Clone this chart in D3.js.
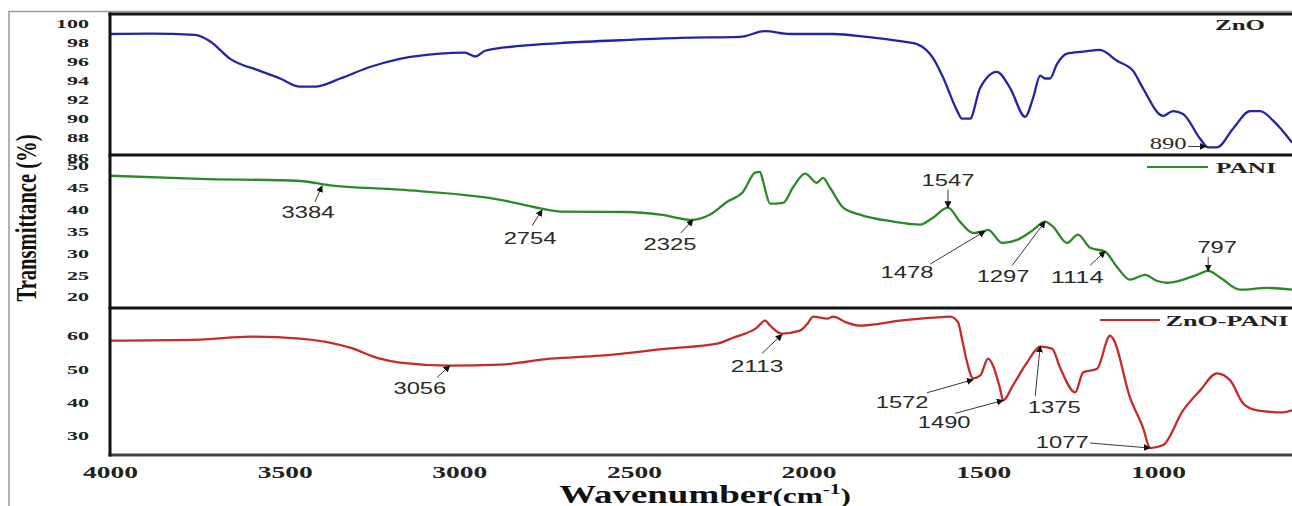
<!DOCTYPE html>
<html>
<head>
<meta charset="utf-8">
<script src="https://cdn.jsdelivr.net/npm/d3@7/dist/d3.min.js"></script>
<style>
  html, body { margin: 0; padding: 0; background: #fff; }
  svg { display: block; }
</style>
</head>
<body>
<svg id="chart" width="1292" height="506"></svg>
<script>
// ---------------------------------------------------------------------------
// Data (wavenumber in cm-1, transmittance in %)
// ---------------------------------------------------------------------------
const znoWn = [4000, 3885, 3757, 3714, 3656, 3571, 3513, 3456, 3413, 3341, 3256, 3170, 3055, 2984,
  2955, 2926, 2826, 2712, 2540, 2368, 2196, 2125, 2053, 1930, 1833, 1738, 1690, 1644, 1615, 1575,
  1561, 1538, 1509, 1461, 1423, 1380, 1357, 1337, 1323, 1309, 1289, 1260, 1214, 1166, 1117, 1071,
  1043, 985, 957, 928, 879, 856, 831, 785, 736, 707, 670, 616];
const znoT = [98.85, 98.9, 98.75, 98.1, 96.25, 95.0, 94.2, 93.35, 93.35, 94.2, 95.4, 96.25, 96.8, 96.9,
  96.5, 97.1, 97.6, 97.9, 98.2, 98.45, 98.55, 99.15, 98.85, 98.85, 98.55, 98.1, 97.8, 96.35, 94.3, 90.85,
  90.0, 90.0, 93.2, 94.9, 93.2, 90.2, 92.2, 94.5, 94.2, 94.2, 95.7, 96.8, 97.0, 97.2, 96.05, 95.0,
  93.2, 90.3, 90.8, 90.5, 87.9, 87.0, 87.0, 88.95, 90.8, 90.8, 89.8, 87.5];

const paniWn = [4000, 3742, 3456, 3370, 3170, 2883, 2790, 2712, 2520, 2425, 2331, 2282, 2234, 2188,
  2153, 2139, 2130, 2110, 2073, 2045, 2010, 1976, 1959, 1939, 1901, 1853, 1758, 1681, 1644, 1601,
  1567, 1529, 1495, 1486, 1446, 1403, 1357, 1323, 1300, 1260, 1229, 1194, 1151, 1117, 1080, 1037,
  1002, 974, 928, 888, 856, 822, 765, 687, 616];
const paniT = [47.7, 47.0, 46.5, 45.5, 44.5, 42.2, 40.6, 39.5, 39.4, 38.8, 37.6, 38.8, 41.7, 44.0,
  48.4, 48.6, 46.3, 41.3, 41.5, 45.0, 48.2, 46.1, 47.2, 45.0, 40.4, 38.8, 37.2, 36.5, 38.1, 40.4,
  37.2, 34.6, 35.1, 35.3, 32.3, 33.0, 35.3, 37.2, 36.0, 32.3, 34.2, 31.2, 30.3, 26.8, 23.9, 25.0,
  23.6, 23.2, 23.9, 25.0, 25.9, 24.4, 21.6, 22.0, 21.6];

const zpWn = [4000, 3742, 3599, 3456, 3313, 3227, 3170, 3027, 2883, 2740, 2597, 2405, 2262, 2216,
  2148, 2125, 2110, 2076, 2025, 2004, 1987, 1947, 1930, 1890, 1853, 1738, 1644, 1595, 1572, 1561,
  1546, 1529, 1509, 1486, 1472, 1452, 1443, 1415, 1375, 1337, 1303, 1280, 1237, 1214, 1174, 1137,
  1128, 1080, 1043, 1022, 985, 928, 879, 831, 793, 756, 716, 642, 616];
const zpT = [58.5, 58.8, 59.7, 59.1, 56.4, 53.1, 51.9, 51.0, 51.3, 53.1, 54.0, 56.1, 57.6, 59.4,
  62.4, 64.5, 63.0, 60.6, 61.5, 63.5, 65.7, 65.1, 65.7, 63.9, 63.0, 64.5, 65.4, 65.7, 64.0, 59.1,
  51.9, 47.2, 48.0, 53.1, 51.0, 44.2, 40.6, 45.1, 51.9, 56.7, 56.1, 50.4, 43.0, 49.0, 50.1, 60.0,
  59.1, 41.5, 32.5, 26.3, 27.2, 37.6, 43.6, 48.7, 46.6, 39.7, 37.6, 37.0, 37.6];

const xTicks = [4000, 3500, 3000, 2500, 2000, 1500, 1000];
const znoTicks = [100, 98, 96, 94, 92, 90, 88, 86];
const paniTicks = [50, 45, 40, 35, 30, 25, 20];
const zpTicks = [60, 50, 40, 30];

// Peak annotations: [label, wavenumber of the arrow tip, transmittance at the tip]
const znoPeaks = [['890', 862, 87.1]];
const paniPeaks = [['3384', 3393, 45.4], ['2754', 2763, 39.9], ['2325', 2331, 37.6],
  ['1547', 1601, 40.4], ['1478', 1495, 35.0], ['1297', 1323, 37.2], ['1114', 1151, 30.4],
  ['797', 856, 25.9]];
const zpPeaks = [['3056', 3027, 51.0], ['2113', 2076, 60.4], ['1572', 1529, 46.8],
  ['1490', 1443, 40.6], ['1375', 1337, 56.9], ['1077', 1022, 26.3]];

// Where each label sits relative to its arrow tip (pixels): label centre, arrow start.
const peakLayout = {
  '890': { lx: -38, ly: -3, sx: -18, sy: 0 },
  '3384': { lx: -14, ly: 26, sx: -7, sy: 16 },
  '2754': { lx: -12, ly: 28, sx: -10, sy: 16 },
  '2325': { lx: -23, ly: 24, sx: -12, sy: 13 },
  '1547': { lx: 0, ly: -27, sx: 0, sy: -18 },
  '1478': { lx: -78, ly: 41, sx: -55, sy: 33 },
  '1297': { lx: -42, ly: 55, sx: -33, sy: 44 },
  '1114': { lx: -28, ly: 26, sx: -15, sy: 14 },
  '797': { lx: 9, ly: -24, sx: 0, sy: -14 },
  '3056': { lx: -30, ly: 23, sx: -13, sy: 12 },
  '2113': { lx: -25, ly: 32, sx: -20, sy: 19 },
  '1572': { lx: -71, ly: 23, sx: -46, sy: 13 },
  '1490': { lx: -59, ly: 22, sx: -48, sy: 13 },
  '1375': { lx: 14, ly: 61, sx: -5, sy: 50 },
  '1077': { lx: -88, ly: -6, sx: -60, sy: -5 },
};

// ---------------------------------------------------------------------------
// Layout
// ---------------------------------------------------------------------------
const svg = d3.select('#chart');
const W = 1292;
const plotLeft = 110;
const serif = '"Liberation Serif", "Times New Roman", serif';
const sans = '"Liberation Sans", Arial, sans-serif';

// the frame continues past the right edge of the photo
const x = d3.scaleLinear().domain([4000, 400]).range([plotLeft, plotLeft + 3600 * 0.3493]);

const panels = [
  { name: 'ZnO', wn: znoWn, t: znoT, peaks: znoPeaks, ticks: znoTicks, color: '#2424a4',
    top: 14, bottom: 155, y: d3.scaleLinear().domain([86, 100]).range([157, 23]),
    legend: { line: null, tx: 1240, ty: 25, len: 50 } },
  { name: 'PANI', wn: paniWn, t: paniT, peaks: paniPeaks, ticks: paniTicks, color: '#2a8a2a',
    top: 155, bottom: 308, y: d3.scaleLinear().domain([20, 50]).range([296.7, 165.7]),
    legend: { line: [1147, 1208, 167], tx: 1246, ty: 168, len: 60 } },
  { name: 'ZnO-PANI', wn: zpWn, t: zpT, peaks: zpPeaks, ticks: zpTicks, color: '#c62a2a',
    top: 308, bottom: 455, y: d3.scaleLinear().domain([30, 60]).range([435.7, 335.7]),
    legend: { line: [1100, 1160, 320], tx: 1227, ty: 321, len: 123 } },
];

const defs = svg.append('defs');
defs.append('marker')
  .attr('id', 'arrow')
  .attr('viewBox', '0 0 10 10')
  .attr('refX', 9).attr('refY', 5)
  .attr('markerWidth', 7).attr('markerHeight', 7)
  .attr('markerUnits', 'userSpaceOnUse')
  .attr('orient', 'auto')
  .append('path')
    .attr('d', 'M0,0 L10,5 L0,10 z')
    .attr('fill', '#111');

// outer grey frame of the figure
svg.append('rect')
  .attr('x', 9).attr('y', 11.5)
  .attr('width', W + 20).attr('height', 600)
  .attr('fill', 'none')
  .attr('stroke', '#9a9a9a')
  .attr('stroke-width', 1.5);

panels.forEach((p, i) => {
  const g = svg.append('g').attr('class', 'panel');

  defs.append('clipPath').attr('id', 'clip' + i)
    .append('rect')
      .attr('x', plotLeft).attr('y', p.top)
      .attr('width', W - plotLeft).attr('height', p.bottom - p.top);

  // spectrum
  const line = d3.line()
    .x((d) => x(d[0]))
    .y((d) => p.y(d[1]))
    .curve(d3.curveMonotoneX);

  g.append('path')
    .datum(p.wn.map((w, k) => [w, p.t[k]]))
    .attr('clip-path', `url(#clip${i})`)
    .attr('d', line)
    .attr('fill', 'none')
    .attr('stroke', p.color)
    .attr('stroke-width', 2.3)
    .attr('stroke-linejoin', 'round');

  // y axis labels (no tick marks in the original)
  const yAxis = g.append('g')
    .attr('transform', `translate(${plotLeft},0)`)
    .call(d3.axisLeft(p.y).tickValues(p.ticks).tickSize(0).tickPadding(21));
  yAxis.select('.domain').remove();
  yAxis.selectAll('text')
    .attr('font-family', serif)
    .attr('font-weight', 'bold')
    .attr('font-size', 11.5)
    .attr('fill', '#222')
    .attr('dy', '0.36em')
    .attr('textLength', (d) => String(d).length * 11)
    .attr('lengthAdjust', 'spacingAndGlyphs');

  // peak annotations
  const ann = g.selectAll('.peak').data(p.peaks).enter().append('g').attr('class', 'peak');
  ann.each(function (d) {
    const lay = peakLayout[d[0]];
    const tx = x(d[1]);
    const ty = p.y(d[2]);
    const a = d3.select(this);
    a.append('line')
      .attr('x1', tx + lay.sx).attr('y1', ty + lay.sy)
      .attr('x2', tx).attr('y2', ty)
      .attr('stroke', '#222')
      .attr('stroke-width', 0.9)
      .attr('marker-end', 'url(#arrow)');
    a.append('text')
      .attr('x', tx + lay.lx).attr('y', ty + lay.ly)
      .attr('dy', '0.36em')
      .attr('text-anchor', 'middle')
      .attr('font-family', d[0] === '890' ? serif : sans)
      .attr('font-size', 16)
      .attr('fill', '#2a2a2a')
      .attr('textLength', d[0].length * (d[0] === '890' ? 12.3 : 13.2))
      .attr('lengthAdjust', 'spacingAndGlyphs')
      .text(d[0]);
  });

  // legend
  if (p.legend.line) {
    g.append('line')
      .attr('x1', p.legend.line[0]).attr('x2', p.legend.line[1])
      .attr('y1', p.legend.line[2]).attr('y2', p.legend.line[2])
      .attr('stroke', p.color)
      .attr('stroke-width', 2);
  }
  g.append('text')
    .attr('x', p.legend.tx).attr('y', p.legend.ty)
    .attr('dy', '0.36em')
    .attr('text-anchor', 'middle')
    .attr('font-family', serif)
    .attr('font-weight', 'bold')
    .attr('font-size', 14)
    .attr('fill', '#222')
    .attr('textLength', p.legend.len)
    .attr('lengthAdjust', 'spacingAndGlyphs')
    .text(p.name);
});

// panel frames: thick dark rules
const frame = svg.append('g').attr('class', 'frames');
[14, 155, 308].forEach((yy) => {
  frame.append('line')
    .attr('x1', plotLeft - 1.5).attr('x2', W)
    .attr('y1', yy).attr('y2', yy)
    .attr('stroke', '#111').attr('stroke-width', 3);
});
frame.append('line')
  .attr('x1', plotLeft - 1.5).attr('x2', W)
  .attr('y1', 455).attr('y2', 455)
  .attr('stroke', '#444').attr('stroke-width', 3);
frame.append('line')
  .attr('x1', plotLeft).attr('x2', plotLeft)
  .attr('y1', 12.5).attr('y2', 456.5)
  .attr('stroke', '#111').attr('stroke-width', 3);

// x axis
const xAxis = svg.append('g')
  .attr('transform', 'translate(0,455)')
  .call(d3.axisBottom(x).tickValues(xTicks).tickSize(0).tickPadding(0).tickFormat(d3.format('d')));
xAxis.select('.domain').remove();
xAxis.selectAll('text')
  .attr('y', 17)
  .attr('dy', '0.36em')
  .attr('font-family', serif)
  .attr('font-weight', 'bold')
  .attr('font-size', 16)
  .attr('fill', '#222')
  .attr('textLength', 55)
  .attr('lengthAdjust', 'spacingAndGlyphs');

// axis titles
const xTitle = svg.append('text')
  .attr('transform', 'translate(705,503) scale(1.42,1)')
  .attr('text-anchor', 'middle')
  .attr('font-family', serif)
  .attr('font-weight', 'bold')
  .attr('font-size', 26)
  .attr('fill', '#111');
xTitle.append('tspan').text('Wavenumber');
xTitle.append('tspan').attr('font-size', 22).text('(cm');
xTitle.append('tspan').attr('font-size', 15).attr('dy', -9).text('-1');
xTitle.append('tspan').attr('font-size', 22).attr('dy', 9).text(')');

svg.append('text')
  .attr('transform', 'translate(36,218) rotate(-90)')
  .attr('text-anchor', 'middle')
  .attr('font-family', serif)
  .attr('font-weight', 'bold')
  .attr('font-size', 30)
  .attr('fill', '#111')
  .attr('textLength', 167)
  .attr('lengthAdjust', 'spacingAndGlyphs')
  .text('Transmittance (%)');
</script>
</body>
</html>
